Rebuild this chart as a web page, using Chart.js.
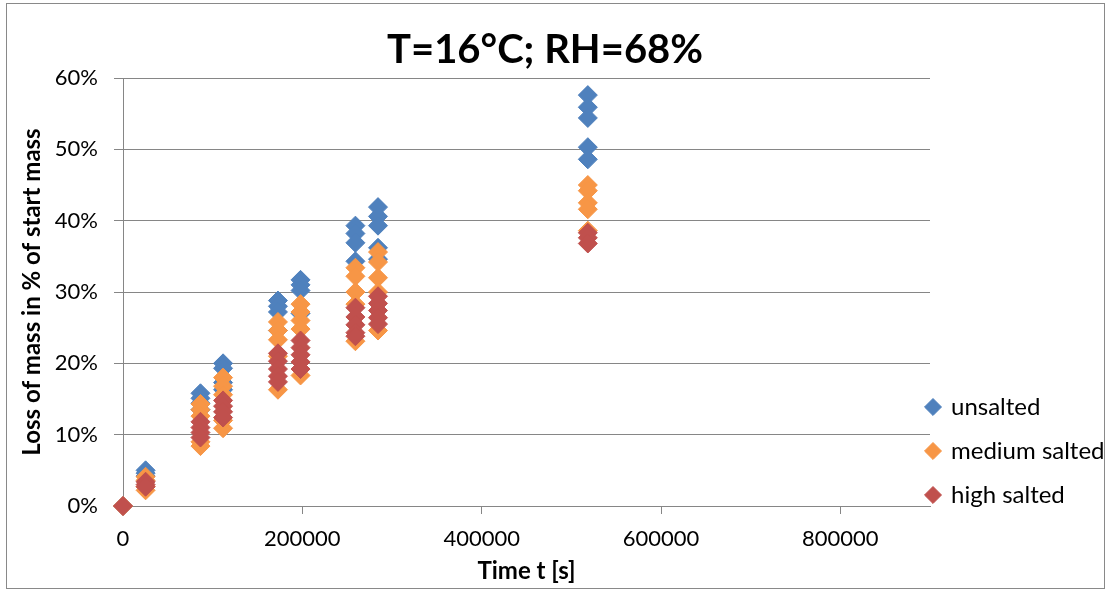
<!DOCTYPE html>
<html>
<head>
<meta charset="utf-8">
<title>T=16°C; RH=68%</title>
<script src="https://cdn.jsdelivr.net/npm/chart.js@4.4.0/dist/chart.umd.min.js"></script>
<style>
    body { margin: 0; background: #fff; }
    #wrap { width: 1112px; height: 592px; }
</style>
</head>
<body>
<div id="wrap"><canvas id="massChart" width="1112" height="592"></canvas></div>
<script>
// measuring times [s]
const times = [0, 25200, 86400, 111600, 172800, 198000, 259200, 284400, 518400];

// loss of mass in %, one list of samples per measuring time
const unsalted = [
    [0], [5.0, 4.6, 4.2], [15.8, 15.1, 14.4, 13.5], [20.0, 19.3, 17.3, 16.3],
    [28.8, 28.0, 27.2, 24.6], [31.7, 31.0, 30.2, 27.0], [39.3, 38.2, 36.9, 34.3],
    [41.9, 40.6, 39.3, 36.2, 34.6], [57.6, 55.9, 54.4, 50.3, 48.6]
];
const mediumSalted = [
    [0], [4.1, 3.6, 2.7, 2.2], [14.3, 13.5, 12.6, 9.0, 8.4], [18.0, 16.8, 15.6, 12.0, 10.9],
    [25.8, 24.6, 23.3, 21.0, 16.3], [28.3, 27.2, 26.0, 24.8, 18.3], [33.4, 32.2, 30.0, 28.3, 23.1],
    [35.6, 34.2, 32.0, 30.0, 24.6], [45.0, 44.2, 42.5, 41.6, 38.6]
];
const highSalted = [
    [0], [3.4, 3.0, 2.7], [11.8, 11.0, 10.3, 9.6], [14.8, 14.0, 13.2, 12.4],
    [21.4, 20.3, 19.2, 18.2, 17.4], [23.2, 22.2, 21.2, 20.2, 19.2], [27.8, 26.5, 25.4, 24.3, 23.8],
    [29.4, 28.4, 27.4, 26.4, 25.5], [38.3, 37.6, 36.8]
];

// tick values
const xTicks = [0, 200000, 400000, 600000, 800000];
const yTicks = [0, 10, 20, 30, 40, 50, 60];

const grey = '#868686';

function toPoints(series) {
    const pts = [];
    series.forEach(function(vals, i) {
        vals.forEach(function(v) { pts.push({ x: times[i], y: v }); });
    });
    return pts;
}

function makeSet(label, series, colour, order) {
    return {
        label: label,
        data: toPoints(series),
        backgroundColor: colour,
        borderColor: colour,
        borderWidth: 1,
        pointStyle: 'rectRot',
        pointRadius: 9.5,
        order: order,
        clip: false
    };
}

// white background + outer frame
const frame = {
    id: 'frame',
    beforeDraw(chart) {
        const c = chart.ctx;
        c.save();
        c.fillStyle = '#fff';
        c.fillRect(0, 0, chart.width, chart.height);
        c.strokeStyle = '#898989';
        c.lineWidth = 1;
        c.strokeRect(6.5, 3.5, 1098, 585);
        c.restore();
    }
};

// legend sits low on the right, like excel
const legendSpot = {
    id: 'legendSpot',
    afterLayout(chart) {
        const lg = chart.legend;
        lg.left = chart.chartArea.right - 23;
        lg.right = chart.width;
        lg.width = lg.right - lg.left;
        lg.top = 375;
        lg.bottom = chart.height;
        lg.height = lg.bottom - lg.top;
    }
};

Chart.defaults.font.family = 'Lato';
Chart.defaults.color = '#000';

const ctx = document.getElementById('massChart');

const massChart = new Chart(ctx, {
    type: 'scatter',
    data: {
        datasets: [
            makeSet('unsalted', unsalted, '#4F81BD', 3),
            makeSet('medium salted', mediumSalted, '#F79646', 2),
            makeSet('high salted', highSalted, '#C0504D', 1)
        ]
    },
    options: {
        responsive: false,
        animation: false,
        events: [],
        layout: { padding: { left: 4, right: 26, top: 4, bottom: 4 } },
        scales: {
            x: {
                type: 'linear',
                min: 0,
                max: 900000,
                afterBuildTicks: function(s) { s.ticks = xTicks.map(function(v) { return { value: v }; }); },
                afterFit: function(s) { s.height = 82; },
                grid: {
                    drawOnChartArea: false,
                    tickLength: 8,
                    color: function(c) { return c.tick && c.tick.value === 0 ? 'rgba(0,0,0,0)' : grey; }
                },
                border: { color: grey },
                ticks: {
                    font: { size: 22 },
                    padding: 12,
                    maxRotation: 0,
                    callback: function(v) { return String(v); }
                },
                title: {
                    display: true,
                    text: 'Time t [s]',
                    font: { size: 24, weight: 'bold' },
                    padding: { top: 0, bottom: 2 }
                }
            },
            y: {
                min: 0,
                max: 60,
                afterBuildTicks: function(s) { s.ticks = yTicks.map(function(v) { return { value: v }; }); },
                afterFit: function(s) { s.width = 119; },
                grid: { color: grey, tickLength: 9 },
                border: { color: grey },
                ticks: {
                    font: { size: 22 },
                    padding: 16,
                    callback: function(v) { return v + '%'; }
                },
                title: {
                    display: true,
                    text: 'Loss of mass in % of start mass',
                    font: { size: 24, weight: 'bold' },
                    padding: { top: 13.6, bottom: 0 }
                }
            }
        },
        plugins: {
            title: {
                display: true,
                text: 'T=16°C; RH=68%',
                font: { size: 40, weight: 'bold' },
                color: '#000',
                padding: { top: 22, bottom: 4 }
            },
            legend: {
                position: 'right',
                align: 'start',
                maxWidth: 156,
                labels: {
                    usePointStyle: true,
                    boxWidth: 12,
                    boxHeight: 12,
                    padding: 20,
                    font: { size: 24 },
                    sort: function(a, b) { return a.datasetIndex - b.datasetIndex; }
                }
            },
            tooltip: { enabled: false }
        }
    },
    plugins: [frame, legendSpot]
});
</script>
</body>
</html>
